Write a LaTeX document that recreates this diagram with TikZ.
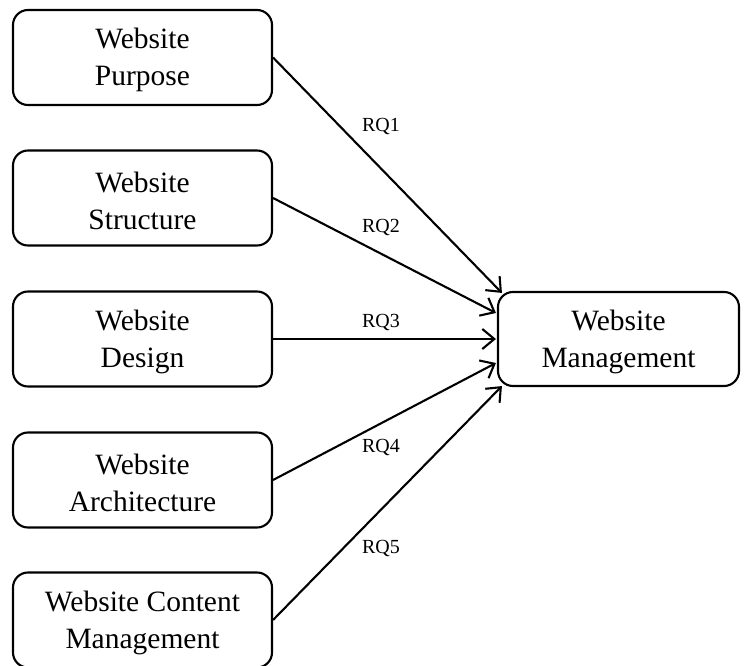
\documentclass[tikz,border=0pt]{standalone}
\usepackage{fontspec}
\setmainfont{Liberation Serif}
\usetikzlibrary{arrows.meta,calc}
\tikzset{
  box/.style={draw, line width=2.1pt, rounded corners=15pt, minimum width=259pt, minimum height=95pt, align=center, font=\fontsize{29.5}{37}\selectfont, inner sep=0pt},
  rbox/.style={box, minimum width=241pt, minimum height=94pt},
  conn/.style={line width=2.1pt, -{Straight Barb[length=12pt,width=20pt,line width=2.1pt]}},
  rq/.style={font=\fontsize{20}{24}\selectfont, inner sep=0pt}
}
\begin{document}
\begin{tikzpicture}[x=1pt,y=-1pt]
\useasboundingbox (0,0) rectangle (745,666);
\node[box] (p) at (142.5,57.5) {\strut Website\\Purpose};
\node[box] (s) at (142.5,198) {\strut Website\\Structure};
\node[box] (d) at (142.5,339) {\strut Website\\Design};
\node[box] (a) at (142.5,480) {\strut Website\\Architecture};
\node[box] (c) at (142.5,620) {\strut Website Content\\Management};
\node[rbox] (m) at (618.5,339) {\strut Website\\Management};
\coordinate (t1) at ($(m.north west)+(5,2)$);
\coordinate (t2) at ($(m.west)+(-1,-26)$);
\coordinate (t3) at ($(m.west)+(-1,0)$);
\coordinate (t4) at ($(m.west)+(-1,24)$);
\coordinate (t5) at ($(m.south west)+(5,-1)$);
\draw[conn] (p.east) -- (t1);
\draw[conn] (s.east) -- (t2);
\draw[conn] (d.east) -- (t3);
\draw[conn] (a.east) -- (t4);
\draw[conn] (c.east) -- (t5);
\node[rq] (rq1) at (381,127) {RQ1};
\node[rq] (rq2) at (381,228) {RQ2};
\node[rq] (rq3) at (381,322) {RQ3};
\node[rq] (rq4) at (381,447) {RQ4};
\node[rq] (rq5) at (381,548) {RQ5};
\end{tikzpicture}
\end{document}
